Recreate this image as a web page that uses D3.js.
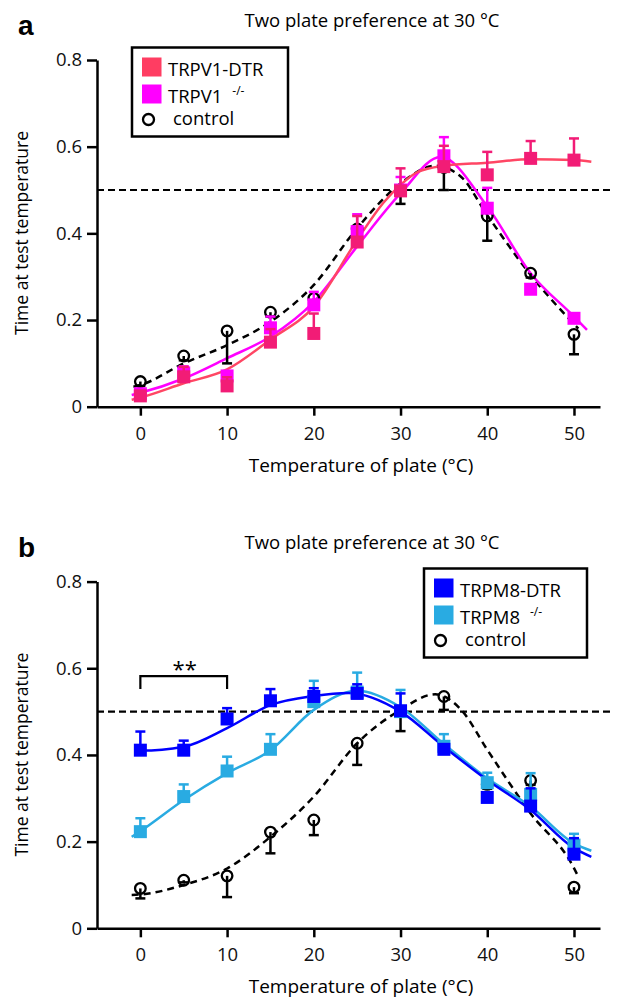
<!DOCTYPE html>
<html>
<head>
<meta charset="utf-8">
<script src="https://cdn.jsdelivr.net/npm/d3@7"></script>
<style>
  body { margin: 0; background: #fff; }
  svg { display: block; font-family: "Open Sans", sans-serif; }
</style>
</head>
<body>
<div id="vis"></div>
<script>
// temperatures of the test plate (°C)
var temps = [0, 5, 10, 15, 20, 25, 30, 35, 40, 45, 50];

// panel a: TRPV1
var trpv1Dtr    = [0.025, 0.069, 0.048, 0.149, 0.169, 0.380, 0.498, 0.554, 0.535, 0.573, 0.569];
var trpv1DtrErr = [0.010, 0.023, 0.020, 0.030, 0.046, 0.060, 0.052, 0.048, 0.053, 0.040, 0.050];
var trpv1Ko     = [0.030, 0.078, 0.071, 0.182, 0.235, 0.404, 0.500, 0.579, 0.458, 0.271, 0.204];
var trpv1KoErr  = [0.010, 0.015, 0.010, 0.026, 0.030, 0.040, 0.030, 0.043, 0.047, 0.010, 0.010];
var controlA    = [0.058, 0.117, 0.175, 0.218, 0.250, 0.410, 0.500, 0.552, 0.440, 0.308, 0.167];
var controlAErr = [0.010, 0.010, 0.075, 0.010, 0.020, 0.020, 0.032, 0.052, 0.057, 0.010, 0.046];

// panel b: TRPM8
var trpm8Dtr    = [0.411, 0.411, 0.483, 0.525, 0.535, 0.542, 0.502, 0.413, 0.302, 0.282, 0.171];
var trpm8DtrErr = [0.043, 0.022, 0.025, 0.027, 0.019, 0.021, 0.040, 0.010, 0.010, 0.041, 0.037];
var trpm8Ko     = [0.223, 0.304, 0.363, 0.413, 0.523, 0.545, 0.500, 0.420, 0.336, 0.309, 0.192];
var trpm8KoErr  = [0.031, 0.028, 0.033, 0.035, 0.048, 0.045, 0.050, 0.028, 0.023, 0.049, 0.026];
var controlB    = [0.092, 0.111, 0.121, 0.222, 0.250, 0.427, 0.500, 0.535, 0.332, 0.341, 0.095];
var controlBErr = [0.023, 0.005, 0.049, 0.049, 0.035, 0.050, 0.045, 0.031, 0.010, 0.010, 0.014];

// fitted curves as [temp, value]
var fitTrpv1Dtr = [[-1, 0.016], [0, 0.021], [5, 0.054], [10, 0.086], [15, 0.155], [20, 0.231], [25, 0.385],
  [28, 0.470], [30, 0.512], [32, 0.542], [35, 0.556], [40, 0.563], [45, 0.571], [50, 0.569], [52, 0.565]];
var fitTrpv1Ko = [[-1, 0.027], [0, 0.032], [5, 0.065], [10, 0.112], [15, 0.162], [20, 0.242], [25, 0.370],
  [30, 0.492], [34.6, 0.576], [40, 0.462], [45, 0.308], [50, 0.208], [51.5, 0.177]];
var fitControlA = [[-0.8, 0.046], [0, 0.050], [5, 0.100], [10, 0.142], [15, 0.196], [20, 0.281], [25, 0.412],
  [30, 0.515], [34, 0.556], [37, 0.530], [40, 0.442], [45, 0.304], [50.5, 0.180]];
var fitTrpm8Dtr = [[-0.5, 0.410], [0, 0.410], [5, 0.419], [10, 0.462], [15, 0.515], [20, 0.536], [24, 0.543],
  [30, 0.500], [35, 0.419], [40, 0.342], [45, 0.273], [50, 0.185], [52, 0.165]];
var fitTrpm8Ko = [[-1, 0.211], [0, 0.224], [5, 0.296], [10, 0.358], [15, 0.411], [20, 0.504], [25, 0.548],
  [30, 0.510], [35, 0.425], [40, 0.346], [45, 0.281], [50, 0.196], [52, 0.179]];
var fitControlB = [[-1, 0.077], [0, 0.078], [5, 0.100], [10, 0.138], [15, 0.211], [20, 0.304], [25, 0.427],
  [30, 0.504], [34, 0.540], [37, 0.504], [40, 0.412], [45, 0.265], [50, 0.139], [50.5, 0.119]];

var yTicks = [0, 0.2, 0.4, 0.6, 0.8];
var xTicks = [0, 10, 20, 30, 40, 50];
var chance = 0.5;
var sigSpan = [0, 10];
var sigLevel = 0.582;

var width = 628, height = 1001;
var svg = d3.select('#vis').append('svg')
  .attr('width', width)
  .attr('height', height);

var x = d3.scaleLinear().domain([-5, 53]).range([97, 600]);

var fitLine = function (y) {
  return d3.line()
    .x(function (d) { return x(d[0]); })
    .y(function (d) { return y(d[1]); })
    .curve(d3.curveMonotoneX);
};

// one panel of the figure
function drawPanel(opts) {
  var top = opts.top;
  var y = d3.scaleLinear().domain([0, 0.8]).range([top + 346.7, top]);
  var g = svg.append('g');

  // panel letter and title
  g.append('text')
    .attr('x', 18).attr('y', top - 25)
    .style('font-family', '"Liberation Sans", Arial, sans-serif')
    .style('font-weight', 'bold').style('font-size', '28px')
    .text(opts.letter);
  g.append('text')
    .attr('x', 372).attr('y', top - 33)
    .attr('text-anchor', 'middle')
    .style('font-size', '18.5px')
    .text('Two plate preference at 30 °C');

  // axes
  var yAxis = d3.axisLeft(y).tickValues(yTicks).tickSize(10).tickSizeOuter(0).tickPadding(5)
    .tickFormat(function (d) { return d === 0 ? '0' : d3.format('.1f')(d); });
  var xAxis = d3.axisBottom(x).tickValues(xTicks).tickSize(9).tickSizeOuter(0).tickPadding(11);

  var ya = g.append('g').attr('transform', 'translate(97,0)').call(yAxis);
  var xa = g.append('g').attr('transform', 'translate(0,' + y(0) + ')').call(xAxis);
  [ya, xa].forEach(function (a) {
    a.selectAll('path, line').attr('stroke', '#000').attr('stroke-width', 2.5);
    a.selectAll('text').style('font-size', '18.5px').style('font-family', '"Open Sans", sans-serif').attr('fill', '#111');
  });

  g.append('text')
    .attr('transform', 'translate(28,' + (top + 173) + ') rotate(-90)')
    .attr('text-anchor', 'middle')
    .style('font-size', '17.5px')
    .text('Time at test temperature');
  g.append('text')
    .attr('x', 361).attr('y', y(0) + 65)
    .attr('text-anchor', 'middle')
    .style('font-size', '19px')
    .text('Temperature of plate (°C)');

  // chance level
  g.append('line')
    .attr('x1', 97).attr('x2', 612)
    .attr('y1', y(chance)).attr('y2', y(chance))
    .attr('stroke', '#000').attr('stroke-width', 2.2)
    .attr('stroke-dasharray', '7,4');

  // fitted curves
  opts.series.forEach(function (s) {
    g.append('path')
      .attr('d', fitLine(y)(s.fit))
      .attr('fill', 'none')
      .attr('stroke', s.lineColor)
      .attr('stroke-width', 2.5)
      .attr('stroke-dasharray', s.dashed ? '7,5' : null);
  });

  // error bars and markers
  opts.series.forEach(function (s) {
    var eb = g.append('g');
    temps.forEach(function (t, i) {
      var v = s.values[i];
      var e = s.errors[i];
      var end = s.down ? v - e : v + e;
      eb.append('line')
        .attr('x1', x(t)).attr('x2', x(t))
        .attr('y1', y(v)).attr('y2', y(end))
        .attr('stroke', s.errColor).attr('stroke-width', 2.5);
      eb.append('line')
        .attr('x1', x(t) - 5).attr('x2', x(t) + 5)
        .attr('y1', y(end)).attr('y2', y(end))
        .attr('stroke', s.errColor).attr('stroke-width', 2.5);
    });
    if (s.circle) {
      eb.selectAll('circle').data(s.values).enter().append('circle')
        .attr('cx', function (d, i) { return x(temps[i]); })
        .attr('cy', function (d) { return y(d); })
        .attr('r', 5.3)
        .attr('fill', 'none')
        .attr('stroke', '#000').attr('stroke-width', 2.3);
    } else {
      eb.selectAll('rect').data(s.values).enter().append('rect')
        .attr('x', function (d, i) { return x(temps[i]) - 6.5; })
        .attr('y', function (d) { return y(d) - 6.5; })
        .attr('width', 13).attr('height', 13)
        .attr('fill', s.markColor);
    }
  });

  // legend
  var lg = g.append('g').attr('transform', 'translate(' + opts.legend[0] + ',' + opts.legend[1] + ')');
  lg.append('rect')
    .attr('width', 156 + opts.legendExtra).attr('height', 89)
    .attr('fill', '#fff').attr('stroke', '#000').attr('stroke-width', 2.5);
  var items = opts.series.slice().reverse();
  items.forEach(function (s, i) {
    var cy = 19.5 + i * 27;
    if (s.circle) {
      lg.append('circle').attr('cx', 16.5).attr('cy', 72).attr('r', 5.5)
        .attr('fill', 'none').attr('stroke', '#000').attr('stroke-width', 2.3);
      lg.append('text').attr('x', 41).attr('y', 77.5)
        .style('font-size', '18.5px').text(s.name);
    } else {
      lg.append('rect').attr('x', 10).attr('y', cy - 9.5).attr('width', 19.5).attr('height', 19)
        .attr('fill', s.legendColor);
      var tx = lg.append('text').attr('x', 36).attr('y', cy + 8.5)
        .style('font-size', '18.5px').text(s.name);
      if (s.sup) {
        var w = tx.node().getComputedTextLength();
        lg.append('text').attr('x', 36 + w + 10).attr('y', cy + 1)
          .style('font-size', '12px').text(s.sup);
      }
    }
  });

  // significance bracket
  if (opts.sig) {
    var by = y(sigLevel), bl = y(sigLevel - 0.03);
    g.append('path')
      .attr('d', 'M' + x(sigSpan[0]) + ',' + bl + 'V' + by + 'H' + x(sigSpan[1]) + 'V' + bl)
      .attr('fill', 'none').attr('stroke', '#000').attr('stroke-width', 2.2);
    g.append('text')
      .attr('x', (x(sigSpan[0]) + x(sigSpan[1])) / 2 + 1).attr('y', by + 1)
      .attr('text-anchor', 'middle')
      .style('font-size', '22px')
      .text('**');
  }
}

drawPanel({
  top: 60, letter: 'a', legend: [132, 47.5], legendExtra: 0,
  series: [
    { name: 'control', values: controlA, errors: controlAErr, fit: fitControlA, down: true, circle: true,
      lineColor: '#000', errColor: '#000', dashed: true },
    { name: 'TRPV1', sup: '-/-', values: trpv1Ko, errors: trpv1KoErr, fit: fitTrpv1Ko, markColor: '#ff00ff',
      legendColor: '#ff00ff', lineColor: '#ff00ff', errColor: '#ff00ff' },
    { name: 'TRPV1-DTR', values: trpv1Dtr, errors: trpv1DtrErr, fit: fitTrpv1Dtr, markColor: '#f21c76',
      legendColor: '#ff3d62', lineColor: '#ff4664', errColor: '#f21c76' }
  ]
});

drawPanel({
  top: 581.6, letter: 'b', legend: [424, 568.5], legendExtra: 7, sig: true,
  series: [
    { name: 'control', values: controlB, errors: controlBErr, fit: fitControlB, down: true, circle: true,
      lineColor: '#000', errColor: '#000', dashed: true },
    { name: 'TRPM8', sup: '-/-', values: trpm8Ko, errors: trpm8KoErr, fit: fitTrpm8Ko, markColor: '#29abe2',
      legendColor: '#29abe2', lineColor: '#29abe2', errColor: '#29abe2' },
    { name: 'TRPM8-DTR', values: trpm8Dtr, errors: trpm8DtrErr, fit: fitTrpm8Dtr, markColor: '#0000ff',
      legendColor: '#0000ff', lineColor: '#0000ff', errColor: '#0000ff' }
  ]
});
</script>
</body>
</html>
